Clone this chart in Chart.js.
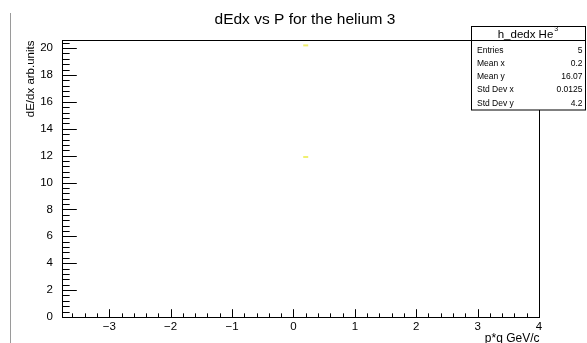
<!DOCTYPE html>
<html>
<head>
<meta charset="utf-8">
<script src="https://cdn.jsdelivr.net/npm/chart.js@4.4.1/dist/chart.umd.min.js"></script>
<style>
  html, body { margin: 0; padding: 0; background: #fff; }
  #wrap { width: 587px; height: 343px; }
</style>
</head>
<body>
<div id="wrap"><canvas id="myChart" width="587" height="343"></canvas></div>
<script>
const FONT = '"Liberation Sans", Arial, Helvetica, sans-serif';

// axis ranges and labelled ticks
const xRange = [-3.77, 4];
const yRange = [0, 20.6];
const xTicks = [-3, -2, -1, 0, 1, 2, 3, 4];
const yTicks = [0, 2, 4, 6, 8, 10, 12, 14, 16, 18, 20];

// filled bins (p*q, dE/dx)
const pointX = [0.2, 0.2];
const pointY = [20.2, 11.9];

// stats box
const statsTitle = 'h_dedx He';
const statsLabels = ['Entries', 'Mean x', 'Mean y', 'Std Dev x', 'Std Dev y'];
const statsValues = ['5', '0.2', '16.07', '0.0125', '4.2'];

const ctx = document.getElementById('myChart').getContext('2d');

const fmt = v => (v < 0 ? '\u2212' + Math.abs(v) : String(v));

// frame, inward ticks, titles and stats box, ROOT style
const rootFrame = {
  id: 'rootFrame',
  beforeDraw(chart) {
    const c = chart.ctx;
    c.save();
    c.fillStyle = '#fff';
    c.fillRect(0, 0, chart.width, chart.height);
    c.strokeStyle = '#9a9a9a';
    c.lineWidth = 1;
    c.beginPath();
    c.moveTo(10.5, 13);
    c.lineTo(10.5, chart.height);
    c.stroke();
    c.restore();
  },
  afterDraw(chart) {
    const c = chart.ctx;
    const a = chart.chartArea;
    const xs = chart.scales.x;
    const ys = chart.scales.y;
    c.save();
    c.strokeStyle = '#000';
    c.lineWidth = 1;
    const L = Math.round(a.left) + 0.5, R = Math.round(a.right) + 0.5;
    const T = Math.round(a.top) + 0.5, B = Math.round(a.bottom) + 0.5;
    c.strokeRect(L, T, R - L, B - T);

    const xLen = 0.03 * (B - T), yLen = 0.03 * (R - L);
    c.beginPath();
    for (let i = 0; i <= 40; i++) {
      const v = -4 + i * 0.2;
      if (v < xRange[0] - 1e-9 || v > xRange[1] + 1e-9) continue;
      const px = Math.round(xs.getPixelForValue(v)) + 0.5;
      const major = Math.abs(v - Math.round(v)) < 1e-6;
      c.moveTo(px, B);
      c.lineTo(px, B - (major ? xLen : xLen / 2));
    }
    for (let i = 0; i <= 51; i++) {
      const v = i * 0.4;
      if (v > yRange[1] + 1e-9) continue;
      const py = Math.round(ys.getPixelForValue(v)) + 0.5;
      const major = Math.abs(v / 2 - Math.round(v / 2)) < 1e-6;
      c.moveTo(L, py);
      c.lineTo(L + (major ? yLen : yLen / 2), py);
    }
    c.stroke();

    // titles
    c.fillStyle = '#000';
    c.font = '15.5px ' + FONT;
    c.textAlign = 'center';
    c.textBaseline = 'alphabetic';
    c.fillText('dEdx vs P for the helium 3', 305, 24);

    c.font = '12px ' + FONT;
    c.textAlign = 'right';
    c.fillText('p*q GeV/c', R, 342);

    c.save();
    c.translate(34, T);
    c.rotate(-Math.PI / 2);
    c.font = '11.5px ' + FONT;
    c.textAlign = 'right';
    c.fillText('dE/dx arb.units', 0, 0);
    c.restore();

    // stats box
    const bx = 471.5, by = 26.5, bw = 114, bh = 83.5;
    c.fillStyle = '#fff';
    c.fillRect(bx, by, bw, bh);
    c.strokeRect(bx, by, bw, bh);
    c.beginPath();
    c.moveTo(bx, 40.5);
    c.lineTo(bx + bw, 40.5);
    c.stroke();
    c.fillStyle = '#000';
    c.font = '11.5px ' + FONT;
    c.textAlign = 'center';
    const tw = c.measureText(statsTitle).width;
    const tx = bx + bw / 2 - 3;
    c.fillText(statsTitle, tx, 38);
    c.font = '7px ' + FONT;
    c.fillText('3', tx + tw / 2 + 3, 31);
    c.font = '8.5px ' + FONT;
    statsLabels.forEach((lab, i) => {
      const yy = 52.5 + i * 13.3;
      c.textAlign = 'left';
      c.fillText(lab, bx + 5.5, yy);
      c.textAlign = 'right';
      c.fillText(statsValues[i], bx + bw - 3, yy);
    });
    c.restore();
  }
};

const myChart = new Chart(ctx, {
  type: 'scatter',
  data: {
    datasets: [{
      label: 'h_dedx_He3',
      data: pointX.map((x, i) => ({ x, y: pointY[i] })),
      pointStyle: 'line',
      pointRadius: 2.5,
      borderWidth: 2,
      borderColor: '#f0f070',
      backgroundColor: '#f0f070'
    }]
  },
  options: {
    responsive: false,
    animation: false,
    events: [],
    layout: { padding: { top: 40, right: 48, left: 0, bottom: 0 } },
    plugins: {
      legend: { display: false },
      tooltip: { enabled: false },
      title: { display: false }
    },
    scales: {
      x: {
        type: 'linear',
        min: xRange[0],
        max: xRange[1],
        afterBuildTicks: s => { s.ticks = xTicks.map(v => ({ value: v })); },
        afterFit: s => { s.height = 26; },
        grid: { display: false, drawTicks: false },
        border: { display: false },
        ticks: {
          color: '#000',
          font: { family: FONT, size: 11.5 },
          padding: 3,
          maxRotation: 0,
          autoSkip: false,
          callback: v => fmt(v)
        }
      },
      y: {
        type: 'linear',
        min: yRange[0],
        max: yRange[1],
        afterBuildTicks: s => { s.ticks = yTicks.map(v => ({ value: v })); },
        afterFit: s => { s.width = 62; },
        grid: { display: false, drawTicks: false },
        border: { display: false },
        ticks: {
          color: '#000',
          font: { family: FONT, size: 11.5 },
          padding: 9,
          autoSkip: false,
          callback: v => fmt(v)
        }
      }
    }
  },
  plugins: [rootFrame]
});
</script>
</body>
</html>
